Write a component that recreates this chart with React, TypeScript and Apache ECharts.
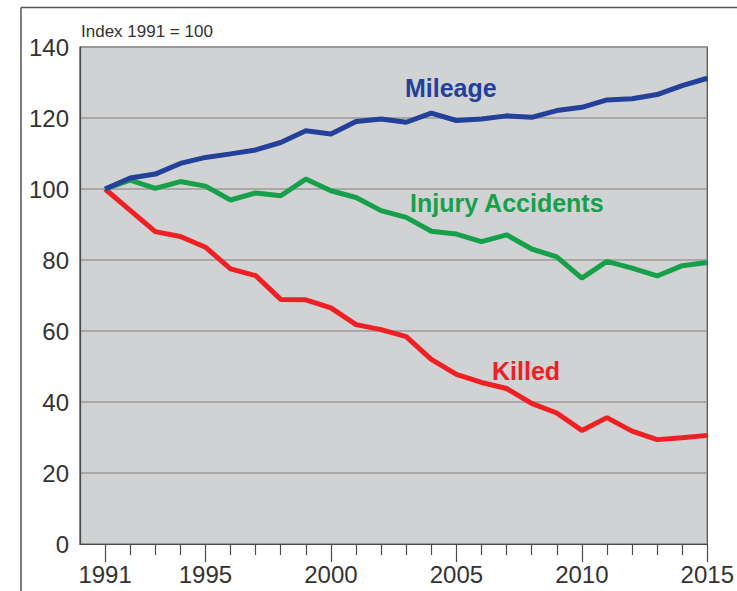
import React, { useEffect, useRef } from "react";
import * as echarts from "echarts";

const years = [1991, 1992, 1993, 1994, 1995, 1996, 1997, 1998, 1999, 2000, 2001, 2002, 2003, 2004, 2005, 2006, 2007, 2008, 2009, 2010, 2011, 2012, 2013, 2014, 2015];
const mileage = [100, 103.1, 104.2, 107.2, 108.9, 109.9, 111.0, 113.1, 116.4, 115.5, 119.0, 119.7, 118.8, 121.4, 119.3, 119.7, 120.6, 120.2, 122.1, 123.0, 125.1, 125.4, 126.6, 129.1, 131.2];
const injuryAccidents = [100, 102.5, 100.2, 102.1, 100.8, 96.9, 98.9, 98.1, 102.8, 99.5, 97.6, 93.9, 92.0, 88.1, 87.3, 85.2, 87.1, 83.1, 80.9, 74.9, 79.6, 77.7, 75.5, 78.4, 79.3];
const killed = [100, 94.0, 88.0, 86.6, 83.6, 77.5, 75.6, 68.9, 68.8, 66.5, 61.8, 60.4, 58.4, 52.0, 47.8, 45.5, 43.8, 39.6, 36.9, 32.0, 35.6, 31.8, 29.4, 29.9, 30.6];
const majorYears = [1991, 1995, 2000, 2005, 2010, 2015];
const minorYears = years.filter((y) => majorYears.indexOf(y) < 0);
const yTicks = [0, 20, 40, 60, 80, 100, 120, 140];

const FONT = "Liberation Sans, Arial, sans-serif";

export default function App() {
  const ref = useRef<HTMLDivElement>(null);
  useEffect(() => {
    if (!ref.current) return;
    const chart = echarts.init(ref.current, null, { renderer: "svg" });
    const pair = (arr: number[]) => years.map((y, i) => [y, arr[i]]);
    chart.setOption({
      animation: false,
      backgroundColor: "#ffffff",
      grid: {
        left: 80,
        right: 29,
        top: 47,
        bottom: 47,
        show: true,
        backgroundColor: "#d1d2d4",
        borderColor: "#4a4a4a",
        borderWidth: 1.2,
      },
      xAxis: [
        {
          type: "value",
          min: 1990,
          max: 2015,
          interval: 1,
          position: "bottom",
          axisLine: { show: true, onZero: false, lineStyle: { color: "#4a4a4a", width: 1.2 } },
          axisTick: { show: true, customValues: majorYears, length: 18, lineStyle: { color: "#4a4a4a", width: 1.2 } },
          axisLabel: {
            customValues: majorYears,
            margin: 18,
            fontSize: 24,
            fontFamily: FONT,
            color: "#333333",
            formatter: (v: number) => String(v),
          },
          splitLine: { show: false },
        },
        {
          type: "value",
          min: 1990,
          max: 2015,
          interval: 1,
          position: "bottom",
          axisLine: { show: false },
          axisTick: { show: true, customValues: minorYears, length: 11, lineStyle: { color: "#4a4a4a", width: 1.2 } },
          axisLabel: { show: false },
          splitLine: { show: false },
        },
      ],
      yAxis: {
        type: "value",
        min: 0,
        max: 140,
        interval: 20,
        axisLine: { show: true, lineStyle: { color: "#4a4a4a", width: 1.2 } },
        axisTick: { show: false },
        axisLabel: {
          margin: 11,
          fontSize: 24,
          fontFamily: FONT,
          color: "#333333",
          customValues: yTicks,
        },
        splitLine: { show: true, lineStyle: { color: "#9a9a9a", width: 1.5 } },
      },
      graphic: [
        { type: "line", shape: { x1: 21, y1: 7.5, x2: 737, y2: 7.5 }, style: { stroke: "#555", lineWidth: 1.5 } },
        { type: "line", shape: { x1: 21, y1: 7.5, x2: 21, y2: 591 }, style: { stroke: "#555", lineWidth: 1.5 } },
        {
          type: "text",
          left: 81,
          top: 23,
          style: { text: "Index 1991 = 100", fontSize: 17, fontFamily: FONT, fill: "#333333" },
        },
        {
          type: "text",
          x: 405,
          y: 88,
          style: { text: "Mileage", fontSize: 25, fontWeight: "bold", fontFamily: FONT, fill: "#23409a", verticalAlign: "middle" },
        },
        {
          type: "text",
          x: 410,
          y: 203,
          style: { text: "Injury Accidents", fontSize: 25, fontWeight: "bold", fontFamily: FONT, fill: "#16a04a", verticalAlign: "middle" },
        },
        {
          type: "text",
          x: 492,
          y: 371,
          style: { text: "Killed", fontSize: 25, fontWeight: "bold", fontFamily: FONT, fill: "#ee2024", verticalAlign: "middle" },
        },
      ],
      series: [
        {
          name: "Killed",
          type: "line",
          data: pair(killed),
          showSymbol: false,
          lineStyle: { color: "#ee2024", width: 5 },
          itemStyle: { color: "#ee2024" },
        },
        {
          name: "Injury Accidents",
          type: "line",
          data: pair(injuryAccidents),
          showSymbol: false,
          lineStyle: { color: "#16a04a", width: 5 },
          itemStyle: { color: "#16a04a" },
        },
        {
          name: "Mileage",
          type: "line",
          data: pair(mileage),
          showSymbol: false,
          lineStyle: { color: "#23409a", width: 5 },
          itemStyle: { color: "#23409a" },
        },
      ],
    });
    return () => chart.dispose();
  }, []);
  return (
    <div
      ref={ref}
      style={{ position: "absolute", left: 0, top: 0, width: 737, height: 591 }}
    />
  );
}
